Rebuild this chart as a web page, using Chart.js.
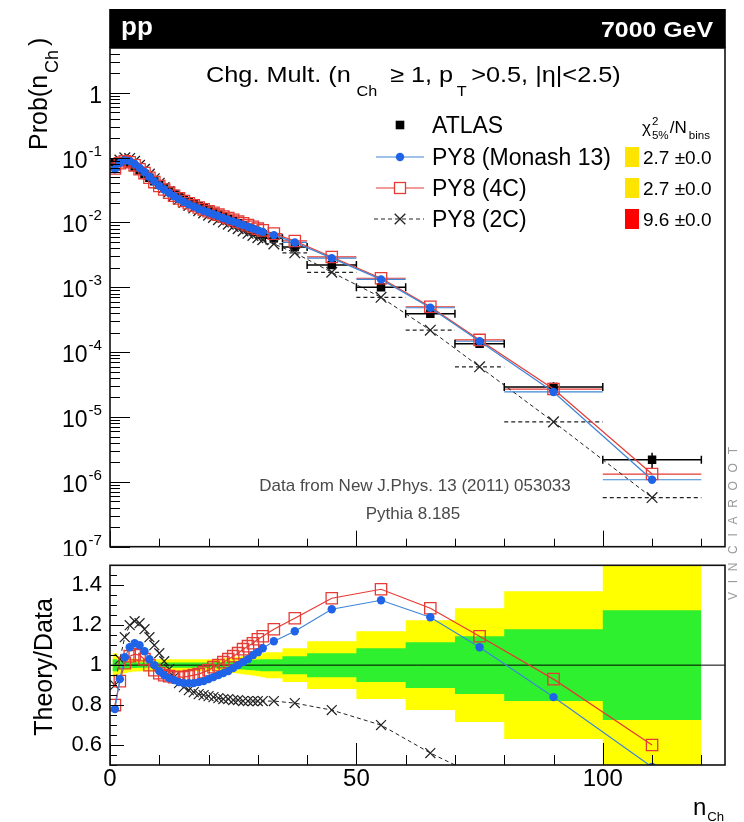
<!DOCTYPE html>
<html><head><meta charset="utf-8">
<script src="https://cdn.jsdelivr.net/npm/chart.js@4/dist/chart.umd.min.js"></script>
<style>
html,body{margin:0;padding:0;background:#fff;width:744px;height:822px;overflow:hidden;}
#main{position:absolute;left:0;top:0;width:744px;height:556px;}
#ratio{position:absolute;left:0;top:556px;width:744px;height:266px;}
#vr{position:absolute;left:727px;top:600px;transform-origin:0 0;transform:rotate(-90deg);font:12px 'Liberation Sans',Arial,sans-serif;letter-spacing:8.7px;color:#9a9a9a;white-space:nowrap;line-height:13px;}
</style></head><body>
<canvas id="main" width="744" height="556"></canvas>
<canvas id="ratio" width="744" height="266"></canvas>
<div id="vr">VINCIAROOT</div>
<script>
const FONT = "'Liberation Sans', Arial, Helvetica, sans-serif";

// ---- data ----
const nchCenters = [1,2,3,4,5,6,7,8,9,10,11,12,13,14,15,16,17,18,19,20,21,22,23,24,25,26,27,28,29,30,31,33.25,37.5,45,55,65,75,90,110];
const binLow  = [0.5,1.5,2.5,3.5,4.5,5.5,6.5,7.5,8.5,9.5,10.5,11.5,12.5,13.5,14.5,15.5,16.5,17.5,18.5,19.5,20.5,21.5,22.5,23.5,24.5,25.5,26.5,27.5,28.5,29.5,30.5,31.5,35,40,50,60,70,80,100];
const binHigh = [1.5,2.5,3.5,4.5,5.5,6.5,7.5,8.5,9.5,10.5,11.5,12.5,13.5,14.5,15.5,16.5,17.5,18.5,19.5,20.5,21.5,22.5,23.5,24.5,25.5,26.5,27.5,28.5,29.5,30.5,31.5,35,40,50,60,70,80,100,120];
const atlasProb = [0.085,0.089,0.087,0.081,0.072,0.063,0.056,0.049,0.043,0.038,
  0.034,0.0305,0.0275,0.0250,0.0228,0.0209,0.0193,0.0178,0.0165,0.0153,
  0.0142,0.0132,0.0122,0.0113,0.0105,0.0097,0.0090,0.0083,0.0077,0.0071,0.0066,
  0.0057,0.0042,0.0022,0.00100,0.00039,0.000135,0.0000290,0.0000022];
const ratioMonash = [0.78,0.93,1.04,1.09,1.11,1.10,1.07,1.03,1.00,0.97,
  0.95,0.935,0.925,0.915,0.91,0.91,0.91,0.915,0.92,0.93,
  0.94,0.95,0.96,0.97,0.985,1.00,1.015,1.03,1.05,1.065,1.085,
  1.12,1.17,1.28,1.325,1.24,1.09,0.84,0.49];
const ratio4C = [0.80,0.92,1.01,1.045,1.055,1.05,1.03,1.00,0.975,0.96,
  0.95,0.945,0.94,0.94,0.94,0.945,0.95,0.955,0.965,0.975,
  0.99,1.00,1.015,1.03,1.045,1.06,1.08,1.095,1.11,1.13,1.145,
  1.18,1.235,1.335,1.38,1.285,1.145,0.93,0.60];
const ratio2C = [0.90,1.03,1.14,1.20,1.22,1.21,1.18,1.14,1.10,1.06,
  1.02,0.98,0.94,0.91,0.89,0.875,0.865,0.855,0.85,0.845,
  0.84,0.835,0.83,0.83,0.825,0.825,0.82,0.82,0.82,0.82,0.82,
  0.82,0.81,0.775,0.70,0.56,0.44,0.29,0.26];
const bandGreen = [0.03,0.02,0.018,0.015,0.014,0.013,0.013,0.013,0.013,0.013,
  0.013,0.013,0.013,0.013,0.013,0.013,0.013,0.013,0.013,0.013,
  0.014,0.015,0.016,0.017,0.019,0.02,0.022,0.024,0.026,0.028,0.03,
  0.03,0.045,0.06,0.085,0.115,0.145,0.18,0.275];
const bandYellow = [0.06,0.045,0.04,0.035,0.032,0.03,0.03,0.03,0.03,0.03,
  0.03,0.03,0.03,0.03,0.03,0.03,0.03,0.03,0.03,0.03,
  0.031,0.032,0.034,0.036,0.039,0.042,0.045,0.048,0.052,0.056,0.06,
  0.065,0.085,0.12,0.17,0.225,0.285,0.37,0.6];

const seriesNames = ['ATLAS','PY8 (Monash 13)','PY8 (4C)','PY8 (2C)'];
const chi2Values = ['2.7 \u00b10.0','2.7 \u00b10.0','9.6 \u00b10.0'];
const chi2Colors = ['#ffe400','#ffe400','#ff0000'];

// ticks
const xTickValues = [0,10,20,30,40,50,60,70,80,90,100,110,120];
const xMajorTicks = [0,50,100];
const xTickLabels = ['0','50','100'];
const mainYDecades = [1e-7,1e-6,1e-5,1e-4,1e-3,1e-2,1e-1,1];
const mainYMinorFactors = [1,2,3,4,5,6,7,8,9];
const mainYTickLabels = [['10','-7'],['10','-6'],['10','-5'],['10','-4'],['10','-3'],['10','-2'],['10','-1'],['1','']];
const ratioYMajor = [0.6,0.8,1.0,1.2,1.4];
const ratioYLabels = ['0.6','0.8','1','1.2','1.4'];

const C_BLUE = '#1f64e8', C_BLUE_L = '#3f86d6', C_RED = '#e63a34', C_BLACK = '#222';

// ---- helpers ----
function rich(ctx, parts, x, y, o) {
  const size = o.size, fam = o.family || FONT, wt = o.bold ? 'bold ' : '';
  const sx = o.sx || 1, subScale = o.subScale || 0.64;
  const subDy = o.subDy != null ? o.subDy : 0.3, supDy = o.supDy != null ? o.supDy : 0.42;
  ctx.save();
  ctx.fillStyle = o.color || '#000';
  ctx.textBaseline = 'alphabetic'; ctx.textAlign = 'left';
  const items = []; let w = 0;
  parts.forEach(p => {
    const s = (p.sub || p.sup) ? size * subScale : size;
    ctx.font = wt + s.toFixed(1) + 'px ' + fam;
    const mw = ctx.measureText(p.t).width;
    const g = p.gap || 0;
    const dy = p.sub ? size * subDy : (p.sup ? -size * supDy : 0);
    items.push({t: p.t, font: ctx.font, x: w + g, dy});
    if (!p.noAdvance) w += mw + g;
  });
  const start = o.align === 'right' ? -w : (o.align === 'center' ? -w / 2 : 0);
  ctx.translate(x, y);
  if (o.rotate) ctx.rotate(o.rotate);
  ctx.scale(sx, 1);
  items.forEach(it => { ctx.font = it.font; ctx.fillText(it.t, start + it.x, it.dy); });
  ctx.restore();
  return w * sx;
}
function isMajorX(v) { return xMajorTicks.some(m => Math.abs(m - v) < 1e-9); }
function near(a, b) { return Math.abs(a - b) < 1e-9; }

function drawMarker(ctx, kind, x, y) {
  ctx.save();
  if (kind === 'circle') { ctx.fillStyle = C_BLUE; ctx.beginPath(); ctx.arc(x, y, 4.2, 0, Math.PI * 2); ctx.fill(); }
  else if (kind === 'osq') { ctx.strokeStyle = C_RED; ctx.lineWidth = 1.3; ctx.strokeRect(x - 5.5, y - 5.5, 11, 11); }
  else if (kind === 'x') { ctx.strokeStyle = C_BLACK; ctx.lineWidth = 1.3; ctx.beginPath(); ctx.moveTo(x - 5.3, y - 5.3); ctx.lineTo(x + 5.3, y + 5.3); ctx.moveTo(x + 5.3, y - 5.3); ctx.lineTo(x - 5.3, y + 5.3); ctx.stroke(); }
  else if (kind === 'sq') { ctx.fillStyle = '#000'; ctx.fillRect(x - 4.3, y - 4.3, 8.6, 8.6); }
  ctx.restore();
}

// ---- main panel ----
const mcMain = [
  {ratio: ratioMonash, color: C_BLUE_L, dash: []},
  {ratio: ratio4C, color: C_RED, dash: []},
  {ratio: ratio2C, color: C_BLACK, dash: [4, 3]}
];
const mainPts = r => nchCenters.map((x, i) => ({x, y: atlasProb[i] * r[i]}));

const mainDecor = {
  id: 'mainDecor',
  beforeDatasetsDraw(chart) {
    const {ctx, chartArea: a, scales: {x, y}} = chart;
    ctx.save();
    ctx.beginPath(); ctx.rect(a.left, a.top, a.right - a.left, a.bottom - a.top); ctx.clip();
    mcMain.slice().reverse().forEach(s => {
      ctx.strokeStyle = s.color; ctx.lineWidth = 1.2; ctx.setLineDash(s.dash);
      ctx.beginPath();
      nchCenters.forEach((c, i) => {
        const yy = y.getPixelForValue(atlasProb[i] * s.ratio[i]);
        ctx.moveTo(x.getPixelForValue(binLow[i]), yy); ctx.lineTo(x.getPixelForValue(binHigh[i]), yy);
      });
      ctx.stroke();
    });
    ctx.setLineDash([]);
    ctx.strokeStyle = '#000'; ctx.lineWidth = 1.5;
    ctx.beginPath();
    nchCenters.forEach((c, i) => {
      const v = atlasProb[i], yy = y.getPixelForValue(v), xl = x.getPixelForValue(binLow[i]), xh = x.getPixelForValue(binHigh[i]), xc = x.getPixelForValue(c);
      ctx.moveTo(xl, yy); ctx.lineTo(xh, yy);
      if (xh - xl > 8) { ctx.moveTo(xl, yy - 4); ctx.lineTo(xl, yy + 4); ctx.moveTo(xh, yy - 4); ctx.lineTo(xh, yy + 4); }
      const y1 = y.getPixelForValue(v * (1 + bandGreen[i])), y2 = y.getPixelForValue(v * (1 - bandGreen[i]));
      ctx.moveTo(xc, y1); ctx.lineTo(xc, y2);
    });
    ctx.stroke();
    ctx.restore();
  },
  afterDraw(chart) {
    const {ctx, chartArea: a, scales: {x, y}} = chart;
    ctx.save();
    ctx.strokeStyle = '#000'; ctx.lineWidth = 1;
    ctx.beginPath();
    x.ticks.forEach(t => { const px = Math.round(x.getPixelForValue(t.value)) + 0.5; const L = isMajorX(t.value) ? 16 : 8; ctx.moveTo(px, a.bottom); ctx.lineTo(px, a.bottom - L); });
    y.ticks.forEach(t => { const py = Math.round(y.getPixelForValue(t.value)) + 0.5; const L = t.major ? 20 : 10; ctx.moveTo(a.left, py); ctx.lineTo(a.left + L, py); });
    ctx.stroke();
    ctx.lineWidth = 1.6; ctx.strokeStyle = '#111';
    ctx.strokeRect(a.left, a.top, a.right - a.left, a.bottom - a.top);
    ctx.fillStyle = '#000'; ctx.fillRect(a.left - 0.8, 9, a.right - a.left + 1.6, a.top - 9);
    ctx.restore();
    rich(ctx, [{t: 'pp'}], 121, 35, {size: 26, bold: true, color: '#fff'});
    rich(ctx, [{t: '7000 GeV'}], 713, 37, {size: 22, bold: true, color: '#fff', sx: 1.13, align: 'right'});
    mainYDecades.forEach((d, i) => {
      const py = y.getPixelForValue(d);
      const lab = mainYTickLabels[i];
      if (lab[1]) rich(ctx, [{t: lab[0]}, {t: lab[1], sup: true, gap: 1}], 102, py + 10, {size: 23, align: 'right', subScale: 0.66, supDy: 0.52});
      else rich(ctx, [{t: lab[0]}], 102, py + 10, {size: 23, align: 'right'});
    });
    rich(ctx, [{t: 'Prob(n'}, {t: 'Ch', sub: true, gap: 2}, {t: ')', gap: 4}], 47, 150, {size: 25, align: 'left', rotate: -Math.PI / 2, subScale: 0.72, subDy: 0.42});
    rich(ctx, [{t: 'Chg. Mult. (n'}, {t: 'Ch', sub: true, gap: 5}, {t: ' \u2265 1, p', gap: 5}, {t: 'T', sub: true, gap: 3}, {t: '>0.5, |\u03b7|<2.5)', gap: 4}], 206, 82, {size: 22, sx: 1.15, subDy: 0.62});
    const lx = 432, rows = [125, 157, 188, 219];
    drawMarker(ctx, 'sq', 400, rows[0]);
    ctx.save();
    ctx.lineWidth = 1.2;
    ctx.strokeStyle = C_BLUE_L; ctx.beginPath(); ctx.moveTo(376, rows[1]); ctx.lineTo(424, rows[1]); ctx.stroke();
    ctx.strokeStyle = C_RED; ctx.beginPath(); ctx.moveTo(376, rows[2]); ctx.lineTo(394.5, rows[2]); ctx.moveTo(405.5, rows[2]); ctx.lineTo(424, rows[2]); ctx.stroke();
    ctx.strokeStyle = C_BLACK; ctx.lineWidth = 1; ctx.setLineDash([4, 3]); ctx.beginPath(); ctx.moveTo(374, rows[3]); ctx.lineTo(424, rows[3]); ctx.stroke();
    ctx.restore();
    drawMarker(ctx, 'circle', 400, rows[1]);
    drawMarker(ctx, 'osq', 400, rows[2]);
    drawMarker(ctx, 'x', 400, rows[3]);
    seriesNames.forEach((n, i) => rich(ctx, [{t: n}], lx, rows[i] + 8, {size: 23}));
    rich(ctx, [{t: '\u03c7'}, {t: '2', sup: true, noAdvance: true, gap: 1}, {t: '5%', sub: true, gap: 1}, {t: '/N', gap: 1}, {t: 'bins', sub: true, gap: 2}], 642, 133, {size: 17, subScale: 0.68, subDy: 0.35, supDy: 0.5});
    chi2Values.forEach((v, i) => {
      ctx.fillStyle = chi2Colors[i]; ctx.fillRect(625, rows[i + 1] - 10, 14, 20);
      rich(ctx, [{t: v}], 643, rows[i + 1] + 7, {size: 19});
    });
    rich(ctx, [{t: 'Data from New J.Phys. 13 (2011) 053033'}], 415, 491, {size: 17, align: 'center', color: '#4a4a4a'});
    rich(ctx, [{t: 'Pythia 8.185'}], 413, 519, {size: 17, align: 'center', color: '#4a4a4a'});
  }
};

new Chart(document.getElementById('main'), {
  type: 'line',
  data: {
    datasets: [
      {label: seriesNames[1], data: mainPts(ratioMonash), borderColor: C_BLUE_L, borderWidth: 1.3, pointStyle: 'circle', pointRadius: 4.2, pointBackgroundColor: C_BLUE, pointBorderColor: C_BLUE, pointBorderWidth: 0, order: 1},
      {label: seriesNames[2], data: mainPts(ratio4C), borderColor: C_RED, borderWidth: 1.2, pointStyle: 'rect', pointRadius: 8, pointBackgroundColor: 'rgba(0,0,0,0)', pointBorderColor: C_RED, pointBorderWidth: 1.3, order: 2},
      {label: seriesNames[3], data: mainPts(ratio2C), borderColor: C_BLACK, borderWidth: 1, borderDash: [4, 3], pointStyle: 'crossRot', pointRadius: 7.5, pointBorderColor: C_BLACK, pointBorderWidth: 1.3, order: 3},
      {label: seriesNames[0], data: nchCenters.map((x, i) => ({x, y: atlasProb[i]})), showLine: false, pointStyle: 'rect', pointRadius: 6, pointBackgroundColor: '#000', pointBorderColor: '#000', pointBorderWidth: 0, order: 4}
    ]
  },
  options: {
    responsive: false, animation: false, devicePixelRatio: 1,
    layout: {padding: {top: 48, right: 19, bottom: 8, left: 0}},
    scales: {
      x: {type: 'linear', min: 0, max: 124.8,
        afterBuildTicks: s => { s.ticks = xTickValues.map(v => ({value: v})); },
        afterFit: s => { s.height = 0; s.paddingLeft = 0; s.paddingRight = 0; },
        ticks: {display: false}, grid: {display: false, drawTicks: false}, border: {display: false}},
      y: {type: 'logarithmic', min: 1e-7, max: 4.9,
        afterBuildTicks: s => {
          const t = [];
          mainYDecades.forEach(d => mainYMinorFactors.forEach(f => { const v = d * f; if (v <= s.max) t.push({value: v, major: f === 1}); }));
          s.ticks = t;
        },
        afterFit: s => { s.width = 110; s.paddingTop = 0; s.paddingBottom = 0; },
        ticks: {display: false}, grid: {display: false, drawTicks: false}, border: {display: false}}
    },
    plugins: {legend: {display: false}, tooltip: {enabled: false}}
  },
  plugins: [mainDecor]
});

// ---- ratio panel ----
function bandPts(arr, sign) {
  const pts = [];
  nchCenters.forEach((c, i) => { pts.push({x: binLow[i], y: 1 + sign * arr[i]}); pts.push({x: binHigh[i], y: 1 + sign * arr[i]}); });
  return pts;
}
const ratioDecor = {
  id: 'ratioDecor',
  afterDraw(chart) {
    const {ctx, chartArea: a, scales: {x, y}} = chart;
    ctx.save();
    ctx.strokeStyle = '#000'; ctx.lineWidth = 1;
    ctx.beginPath();
    x.ticks.forEach(t => { const px = Math.round(x.getPixelForValue(t.value)) + 0.5; const L = isMajorX(t.value) ? 22 : 10; ctx.moveTo(px, a.bottom); ctx.lineTo(px, a.bottom - L); });
    y.ticks.forEach(t => { const py = Math.round(y.getPixelForValue(t.value)) + 0.5; const L = ratioYMajor.some(m => near(m, t.value)) ? 14 : 7; ctx.moveTo(a.left, py); ctx.lineTo(a.left + L, py); });
    ctx.stroke();
    ctx.lineWidth = 1.6; ctx.strokeStyle = '#111';
    ctx.strokeRect(a.left, a.top, a.right - a.left, a.bottom - a.top);
    ctx.restore();
    rich(ctx, [{t: 'Theory/Data'}], 52, 111, {size: 25, align: 'center', rotate: -Math.PI / 2});
    rich(ctx, [{t: 'n'}, {t: 'Ch', sub: true, gap: 1}], 693, 259, {size: 24, subScale: 0.55, subDy: 0.25});
  }
};

new Chart(document.getElementById('ratio'), {
  type: 'line',
  data: {
    datasets: [
      {data: bandPts(bandYellow, 1), borderColor: 'rgba(0,0,0,0)', borderWidth: 1, pointRadius: 0, fill: '+1', backgroundColor: '#ffff00', order: 10},
      {data: bandPts(bandYellow, -1), borderColor: 'rgba(0,0,0,0)', borderWidth: 1, pointRadius: 0, fill: false, order: 10},
      {data: bandPts(bandGreen, 1), borderColor: 'rgba(0,0,0,0)', borderWidth: 1, pointRadius: 0, fill: '+1', backgroundColor: '#2ef02e', order: 9},
      {data: bandPts(bandGreen, -1), borderColor: 'rgba(0,0,0,0)', borderWidth: 1, pointRadius: 0, fill: false, order: 9},
      {data: [{x: 0, y: 1}, {x: 124.8, y: 1}], borderColor: '#000', borderWidth: 1, pointRadius: 0, order: 5},
      {label: seriesNames[3], data: nchCenters.map((x, i) => ({x, y: ratio2C[i]})), borderColor: C_BLACK, borderWidth: 1, borderDash: [4, 3], pointStyle: 'crossRot', pointRadius: 7, pointBorderColor: C_BLACK, pointBorderWidth: 1.2, order: 3},
      {label: seriesNames[2], data: nchCenters.map((x, i) => ({x, y: ratio4C[i]})), borderColor: C_RED, borderWidth: 1.2, pointStyle: 'rect', pointRadius: 8, pointBackgroundColor: 'rgba(0,0,0,0)', pointBorderColor: C_RED, pointBorderWidth: 1.3, order: 2},
      {label: seriesNames[1], data: nchCenters.map((x, i) => ({x, y: ratioMonash[i]})), borderColor: C_BLUE_L, borderWidth: 1.2, pointStyle: 'circle', pointRadius: 4.2, pointBackgroundColor: C_BLUE, pointBorderColor: C_BLUE, pointBorderWidth: 0, order: 1}
    ]
  },
  options: {
    responsive: false, animation: false, devicePixelRatio: 1,
    layout: {padding: {top: 9, right: 19, bottom: 0, left: 0}},
    scales: {
      x: {type: 'linear', min: 0, max: 124.8,
        afterBuildTicks: s => { s.ticks = xTickValues.map(v => ({value: v})); },
        afterFit: s => { s.height = 57; s.paddingLeft = 0; s.paddingRight = 0; },
        ticks: {autoSkip: false, maxRotation: 0, padding: 0, color: '#000', font: {family: FONT, size: 24},
          callback: v => { const k = xMajorTicks.findIndex(m => near(m, v)); return k >= 0 ? xTickLabels[k] : ''; }},
        grid: {display: false, drawTicks: false}, border: {display: false}},
      y: {type: 'linear', min: 0.5, max: 1.5,
        afterBuildTicks: s => { const t = []; for (let k = 10; k <= 30; k++) t.push({value: Math.round(k * 5) / 100}); s.ticks = t; },
        afterFit: s => { s.width = 110; s.paddingTop = 0; s.paddingBottom = 0; },
        ticks: {autoSkip: false, padding: 8, color: '#000', font: {family: FONT, size: 22},
          callback: v => { const k = ratioYMajor.findIndex(m => near(m, v)); return k >= 0 ? ratioYLabels[k] : ''; }},
        grid: {display: false, drawTicks: false}, border: {display: false}}
    },
    plugins: {legend: {display: false}, tooltip: {enabled: false}}
  },
  plugins: [ratioDecor]
});
</script>
</body></html>
